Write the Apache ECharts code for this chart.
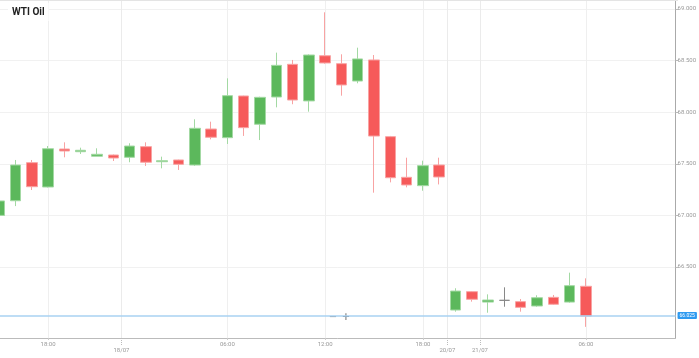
<!DOCTYPE html>
<html>
<head>
<meta charset="utf-8">
<script src="https://cdn.jsdelivr.net/npm/echarts@6/dist/echarts.min.js"></script>
<style>html,body{margin:0;padding:0;background:#fff;}#c{width:699px;height:358px;}</style>
</head>
<body>
<div id="c"></div>
<script>
// hourly categories (tick labels), one per slot
const categories = [
  '15:00','16:00','17:00','18:00','19:00','20:00','21:00','22:00',
  '00:00','01:00','02:00','03:00','04:00','05:00','06:00','07:00','08:00','09:00',
  '10:00','11:00','12:00','13:00','14:00','15:00','16:00','17:00','18:00','19:00',
  '22:00','23:00',
  '00:00','01:00','02:00','03:00','04:00','05:00','06:00','07:00','08:00','09:00','10:00','11:00'
];
const timeLabelIdx = [3, 14, 20, 26, 36];
const dateBoundaries = [7.5, 27.5, 29.5];
const dateLabels = ['18/07', '20/07', '21/07'];
const yTicks = [66.5, 67.0, 67.5, 68.0, 68.5, 69.0];

const openV  = [67.000,67.142,67.511,67.275,67.643,67.617,67.573,67.585,67.563,67.666,67.520,67.537,67.488,67.837,67.753,68.157,67.883,68.147,68.464,68.109,68.547,68.470,68.302,68.506,67.763,67.369,67.288,67.488,66.083,66.261,66.160,66.177,66.164,66.122,66.206,66.160,66.313];
const closeV = [67.140,67.488,67.278,67.646,67.624,67.631,67.592,67.556,67.672,67.515,67.530,67.495,67.844,67.757,68.160,67.850,68.144,68.454,68.118,68.554,68.477,68.264,68.516,67.769,67.365,67.295,67.482,67.372,66.267,66.187,66.180,66.177,66.109,66.202,66.139,66.319,66.025];
const lowV   = [66.990,67.090,67.246,67.270,67.563,67.595,67.573,67.527,67.515,67.479,67.456,67.440,67.480,67.737,67.692,67.770,67.730,68.047,68.077,68.005,68.470,68.160,68.280,67.220,67.320,67.272,67.239,67.300,66.067,66.164,66.057,66.115,66.067,66.115,66.132,66.153,65.920];
const highV  = [67.150,67.537,67.537,67.672,67.708,67.656,67.650,67.590,67.699,67.708,67.569,67.540,67.931,67.908,68.328,68.160,68.150,68.577,68.506,68.560,68.968,68.561,68.625,68.554,67.770,67.559,67.530,67.559,66.294,66.265,66.235,66.303,66.190,66.226,66.229,66.445,66.390];
const currentPrice = 66.025;

const xMin = 0.05, xMax = 41.5;

const data = openV.map((o, i) => {
  const item = { value: [i, o, closeV[i], lowV[i], highV[i]] };
  if (o === closeV[i]) item.itemStyle = { color: '#666', borderColor: '#888', color0: '#666', borderColor0: '#888' };
  return item;
});

const chart = echarts.init(document.getElementById('c'), null, { renderer: 'canvas' });
chart.setOption({
  animation: false,
  backgroundColor: '#fff',
  title: {
    text: 'WTI Oil', left: 8, top: 3,
    backgroundColor: '#fff', padding: [4, 4, 4, 4],
    textStyle: { fontFamily: 'Roboto', fontSize: 10, fontWeight: 'bold', color: '#222' }
  },
  grid: { left: 0, right: 21, top: 0, bottom: 20, show: false },
  xAxis: [{
    type: 'value', min: xMin, max: xMax,
    axisLine: { show: true, onZero: false, lineStyle: { color: '#bbb' } },
    axisTick: { show: true, length: 2, customValues: timeLabelIdx, lineStyle: { color: '#ccc' } },
    axisLabel: { customValues: timeLabelIdx, fontSize: 6, color: '#999', margin: 3, fontFamily: 'Roboto',
      formatter: (v) => categories[Math.round(v)] },
    splitLine: { show: true, lineStyle: { color: '#efefef' } }
  }, {
    type: 'value', min: xMin, max: xMax, position: 'bottom',
    axisLine: { show: false, onZero: false },
    axisTick: { show: true, customValues: dateBoundaries, length: 7, lineStyle: { color: '#bbb', type: 'dotted' } },
    axisLabel: {
      customValues: dateBoundaries, fontSize: 6, color: '#999', margin: 9, fontFamily: 'Roboto',
      formatter: (v) => { const k = dateBoundaries.indexOf(v); return k >= 0 ? dateLabels[k] : ''; }
    },
    splitLine: { show: true, lineStyle: { color: '#ebebeb' } }
  }],
  yAxis: {
    type: 'value', position: 'right', min: 65.812, max: 69.087,
    axisLine: { show: true, lineStyle: { color: '#aaa' } },
    axisTick: { show: true, length: 3, customValues: yTicks, lineStyle: { color: '#bbb' } },
    axisLabel: { customValues: yTicks, fontSize: 6, color: '#999', margin: 2, fontFamily: 'Roboto',
      formatter: (v) => v.toFixed(3) },
    splitLine: { show: true, lineStyle: { color: '#f1f1f1' } }
  },
  series: [{
    type: 'candlestick', xAxisIndex: 0, yAxisIndex: 0, barWidth: 11,
    encode: { x: 0, y: [1, 2, 3, 4] },
    data: data,
    itemStyle: {
      color: '#5cb85c', color0: '#f65a5a',
      borderColor: '#a3d9a3', borderColor0: '#f8a3a3', borderWidth: 1
    },
    markLine: {
      silent: true, symbol: ['none', 'none'],
      lineStyle: { color: '#a9d2f2', width: 1.5, type: 'solid' },
      label: {
        show: true, position: 'end', distance: 2,
        formatter: () => currentPrice.toFixed(3),
        backgroundColor: '#2e9af0', color: '#fff', fontSize: 5, padding: [1, 2, 1, 2],
        borderRadius: 1, fontFamily: 'Roboto'
      },
      data: [{ yAxis: currentPrice }]
    }
  }],
  graphic: [{
    type: 'line', shape: { x1: 0, y1: 0.5, x2: 678, y2: 0.5 }, style: { stroke: '#e4e4e4', lineWidth: 1 }, z: 50
  }, {
    type: 'group', left: 327, top: 312, z: 100,
    children: [
      { type: 'rect', shape: { x: 0, y: 0, width: 26, height: 11 }, style: { fill: '#fff' } },
      { type: 'text', x: 6, y: 5.5, style: { text: '−', fill: '#555', fontSize: 10, fontFamily: 'DejaVu Sans', align: 'center', verticalAlign: 'middle' } },
      { type: 'text', x: 19, y: 5.5, style: { text: '+', fill: '#555', fontSize: 10, fontFamily: 'DejaVu Sans', align: 'center', verticalAlign: 'middle' } }
    ]
  }]
});
</script>
</body>
</html>
